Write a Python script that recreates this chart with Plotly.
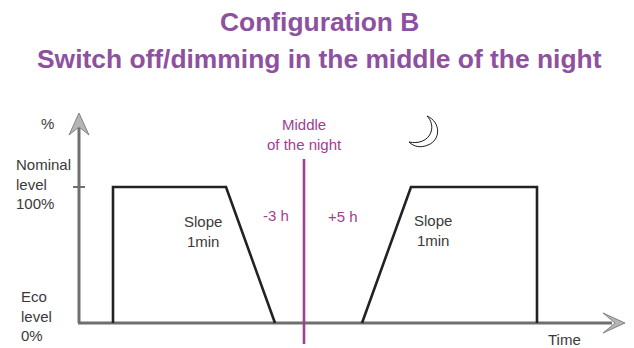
import plotly.graph_objects as go

# Lighting profile, schematic time relative to the middle of the night
before_time = [-191, -191, -78, -29]
before_level = [0, 100, 100, 0]
after_time = [58, 107, 233, 233]
after_level = [0, 100, 100, 0]

# Chart scale: one pixel per time unit, 1.36 pixels per percent
WIDTH, HEIGHT = 634, 348
MID_PX, ZERO_PX, PX_PER_PCT = 304, 323, 1.36

TITLE_COLOR = "#8e519f"
MAGENTA = "#a23d92"
AXIS_GREY = "#6f6f70"
ARROW_GREY = "#b4b5b7"
INK = "#222222"
TEXT_GREY = "#3a3a3a"
FONT = "Liberation Sans"


def tx(px):
    return px - MID_PX


def ty(py):
    return (ZERO_PX - py) / PX_PER_PCT


def path(points):
    return "M " + " L ".join(f"{tx(a)} {ty(b)}" for a, b in points) + " Z"


def line(fig, xs, ys, color, width):
    fig.add_trace(go.Scatter(x=xs, y=ys, mode="lines", hoverinfo="skip",
                             line=dict(color=color, width=width, shape="linear")))


def label(fig, text, px, py, size=15, color=TEXT_GREY, align="left", bold=False, anchor="left"):
    fig.add_annotation(x=tx(px), y=ty(py), text=f"<b>{text}</b>" if bold else text,
                       showarrow=False, xanchor=anchor, yanchor="middle", align=align,
                       font=dict(family=FONT, size=size, color=color))


fig = go.Figure()

# axes
line(fig, [tx(79), tx(79)], [0, ty(128)], AXIS_GREY, 3)
line(fig, [tx(78), tx(612)], [0, 0], AXIS_GREY, 3)
line(fig, [tx(73), tx(85)], [100, 100], AXIS_GREY, 2)

# profile and the middle of the night marker
line(fig, before_time, before_level, INK, 2.6)
line(fig, after_time, after_level, INK, 2.6)
line(fig, [0, 0], [ty(159), ty(344)], MAGENTA, 2.6)

shapes = [
    dict(type="path", path=path([(79, 113), (89, 135), (79, 127), (69, 135)]),
         fillcolor=ARROW_GREY, line=dict(color=AXIS_GREY, width=0.8)),
    dict(type="path", path=path([(625, 323), (603, 333), (615, 323), (603, 313)]),
         fillcolor=ARROW_GREY, line=dict(color=AXIS_GREY, width=0.8)),
    # crescent moon
    dict(type="path",
         path=(f"M {tx(427)} {ty(116)} "
               f"C {tx(441)} {ty(122)} {tx(441)} {ty(140)} {tx(428)} {ty(145)} "
               f"C {tx(421)} {ty(148)} {tx(414)} {ty(147)} {tx(409)} {ty(142)} "
               f"C {tx(418)} {ty(144)} {tx(428)} {ty(141)} {tx(431)} {ty(132)} "
               f"C {tx(433)} {ty(126)} {tx(431)} {ty(120)} {tx(427)} {ty(116)} Z"),
         fillcolor="white", line=dict(color="#1a1a1a", width=1)),
]

label(fig, "Configuration B", 319, 22, size=26.4, color=TITLE_COLOR, bold=True, anchor="center", align="center")
label(fig, "Switch off/dimming in the middle of the night", 319, 59, size=26.4, color=TITLE_COLOR, bold=True, anchor="center", align="center")

label(fig, "%", 39, 123)
label(fig, "Nominal<br>level<br>100%", 14, 184)
label(fig, "Eco<br>level<br>0%", 19, 316)
label(fig, "Middle<br>of the night", 304, 134, color=MAGENTA, align="center", anchor="center")
label(fig, "-3 h", 276, 215, color=MAGENTA, anchor="center", align="center")
label(fig, "+5 h", 343, 216, color=MAGENTA, anchor="center", align="center")
label(fig, "Slope<br>1min", 203, 231, align="center", anchor="center")
label(fig, "Slope<br>1min", 433, 230, align="center", anchor="center")
label(fig, "Time", 564, 339, anchor="center", align="center")

fig.update_layout(
    width=WIDTH, height=HEIGHT,
    margin=dict(l=0, r=0, t=0, b=0),
    paper_bgcolor="white", plot_bgcolor="white",
    showlegend=False, shapes=shapes,
    xaxis=dict(range=[tx(0), tx(WIDTH)], visible=False, fixedrange=True),
    yaxis=dict(range=[ty(HEIGHT), ty(0)], visible=False, fixedrange=True),
)

# page margin would push the figure out of the window
fig.write_html("out.html", config=dict(displayModeBar=False),
               post_script="document.body.style.margin = '0'; document.body.style.overflow = 'hidden';")
